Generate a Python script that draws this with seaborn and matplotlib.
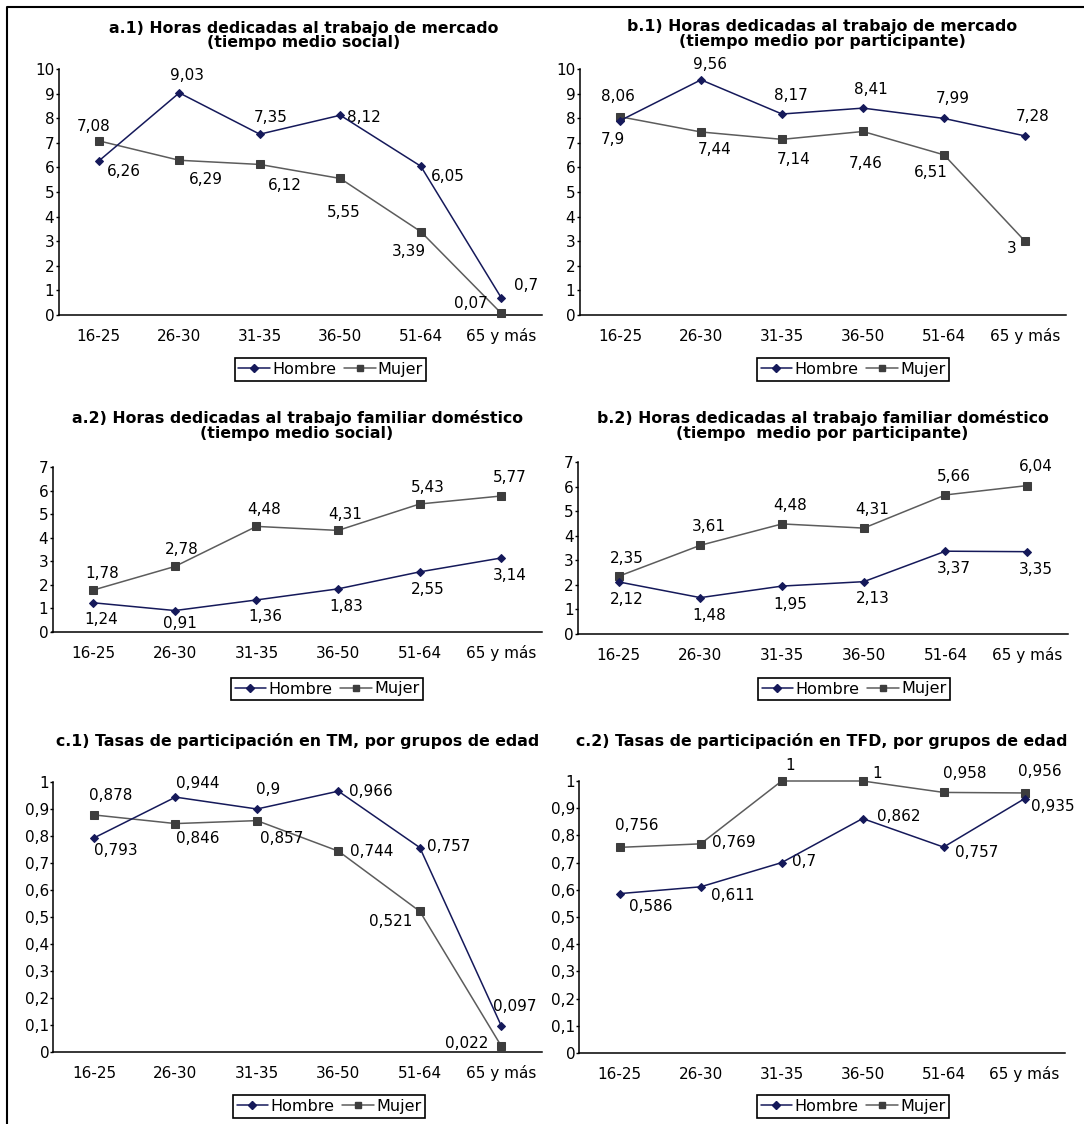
import matplotlib
matplotlib.use("Agg")
import matplotlib.pyplot as plt
import seaborn as sns
import pandas as pd
from matplotlib.lines import Line2D

# ---------------- data ----------------
categories = ["16-25", "26-30", "31-35", "36-50", "51-64", "65 y más"]
series_names = ["Hombre", "Mujer"]

a1_hombre = [6.26, 9.03, 7.35, 8.12, 6.05, 0.7]
a1_mujer = [7.08, 6.29, 6.12, 5.55, 3.39, 0.07]
b1_hombre = [7.9, 9.56, 8.17, 8.41, 7.99, 7.28]
b1_mujer = [8.06, 7.44, 7.14, 7.46, 6.51, 3]
a2_hombre = [1.24, 0.91, 1.36, 1.83, 2.55, 3.14]
a2_mujer = [1.78, 2.78, 4.48, 4.31, 5.43, 5.77]
b2_hombre = [2.12, 1.48, 1.95, 2.13, 3.37, 3.35]
b2_mujer = [2.35, 3.61, 4.48, 4.31, 5.66, 6.04]
c1_hombre = [0.793, 0.944, 0.9, 0.966, 0.757, 0.097]
c1_mujer = [0.878, 0.846, 0.857, 0.744, 0.521, 0.022]
c2_hombre = [0.586, 0.611, 0.7, 0.862, 0.757, 0.935]
c2_mujer = [0.756, 0.769, 1, 1, 0.958, 0.956]

title_a1 = "a.1) Horas dedicadas al trabajo de mercado\n(tiempo medio social)"
title_b1 = "b.1) Horas dedicadas al trabajo de mercado\n(tiempo medio por participante)"
title_a2 = "a.2) Horas dedicadas al trabajo familiar doméstico\n(tiempo medio social)"
title_b2 = "b.2) Horas dedicadas al trabajo familiar doméstico\n(tiempo  medio por participante)"
title_c1 = "c.1) Tasas de participación en TM, por grupos de edad"
title_c2 = "c.2) Tasas de participación en TFD, por grupos de edad"

hours_ticks_10 = [0, 1, 2, 3, 4, 5, 6, 7, 8, 9, 10]
hours_ticks_7 = [0, 1, 2, 3, 4, 5, 6, 7]
rate_ticks = [0, 0.1, 0.2, 0.3, 0.4, 0.5, 0.6, 0.7, 0.8, 0.9, 1]

# ---------------- style / layout ----------------
W, H = 1084, 1124
NAVY = "#15195a"
GREY_LINE = "#5c5c5c"
GREY_MARK = "#3d3d3d"
FS = 11

sns.set_style("white")
plt.rcParams["font.family"] = ["DejaVu Sans"]
plt.rcParams["text.color"] = "black"
plt.rcParams["xtick.color"] = "black"
plt.rcParams["ytick.color"] = "black"
plt.rcParams["axes.labelcolor"] = "black"

fig = plt.figure(figsize=(W / 100, H / 100), dpi=100)

panels = [
    dict(h=a1_hombre, m=a1_mujer, title=title_a1, ticks=hours_ticks_10,
         box=(58.5, 541.5, 69, 315), tpos=(304, 35.5), lpos=(330.5, 369.5),
         off_h=[(25, 10), (7.6, -17), (11, -17), (23.5, 2), (26.6, 10), (25, -12)],
         off_m=[(-5, -14), (27, 19), (25, 21), (3, 34), (-11.4, 20), (-30, -10)]),
    dict(h=b1_hombre, m=b1_mujer, title=title_b1, ticks=hours_ticks_10,
         box=(579.5, 1065.5, 69, 315), tpos=(822, 34), lpos=(853, 369.5),
         off_h=[(-7, 19), (8.6, -15), (8.6, -19), (8.3, -19), (9, -20), (8, -19)],
         off_m=[(-2, -20), (14, 18), (12, 20), (2.4, 32), (-13, 18), (-13, 7)]),
    dict(h=a2_hombre, m=a2_mujer, title=title_a2, ticks=hours_ticks_7,
         box=(52.5, 542, 467, 632), tpos=(297, 425.5), lpos=(327, 689),
         off_h=[(7.6, 17), (5, 13), (9, 17), (8, 18), (8.6, 18), (8.3, 18)],
         off_m=[(8.6, -17), (7, -17), (8, -17), (7, -16), (8.6, -17), (8.3, -18)]),
    dict(h=b2_hombre, m=b2_mujer, title=title_b2, ticks=hours_ticks_7,
         box=(577.8, 1068, 462, 634), tpos=(822.5, 425.5), lpos=(854, 689),
         off_h=[(8, 18), (9.3, 18), (8, 18), (9.3, 17), (8.6, 17), (9, 18)],
         off_m=[(8, -18), (8.6, -19), (8, -18), (8.6, -19), (8.6, -18), (9, -19)]),
    dict(h=c1_hombre, m=c1_mujer, title=title_c1, ticks=rate_ticks,
         box=(53.3, 542, 782, 1052), tpos=(298, 741), lpos=(329, 1106.5),
         off_h=[(21.8, 13), (22, -14), (11, -20), (33, 0), (28.7, -1), (13, -19)],
         off_m=[(17, -19), (22, 15), (25, 18), (33, 0), (-29, 10), (-35, -3)]),
    dict(h=c2_hombre, m=c2_mujer, title=title_c2, ticks=rate_ticks,
         box=(579.3, 1065, 781, 1053), tpos=(822, 741), lpos=(853, 1106.5),
         off_h=[(31, 13), (32, 9), (22.5, -1), (36, -2), (33, 5), (28, 8)],
         off_m=[(17, -22), (33, -1), (8, -16), (14.5, -8), (21, -19), (15, -21)]),
]


def fmt(v):
    return f"{v:g}".replace(".", ",")


xpos = list(range(len(categories)))

for p in panels:
    x0, x1, ytop, ybot = p["box"]
    ax = fig.add_axes([x0 / W, 1 - ybot / H, (x1 - x0) / W, (ybot - ytop) / H])
    df = pd.DataFrame({
        "x": xpos * 2,
        "valor": list(p["h"]) + list(p["m"]),
        "sexo": [series_names[0]] * len(xpos) + [series_names[1]] * len(xpos),
    })
    dh = df[df["sexo"] == "Hombre"]
    dm = df[df["sexo"] == "Mujer"]
    sns.lineplot(data=dm, x="x", y="valor", ax=ax, color=GREY_LINE, linewidth=1.1,
                 marker="s", markersize=6, markerfacecolor=GREY_MARK,
                 markeredgecolor=GREY_MARK, clip_on=False, zorder=3)
    sns.lineplot(data=dh, x="x", y="valor", ax=ax, color=NAVY, linewidth=1.1,
                 marker="D", markersize=4.2, markerfacecolor=NAVY,
                 markeredgecolor=NAVY, clip_on=False, zorder=4)

    ymax = p["ticks"][-1]
    ax.set_xlim(-0.5, len(categories) - 0.5)
    ax.set_ylim(0, ymax)
    ax.set_xlabel("")
    ax.set_ylabel("")
    ax.set_xticks(xpos)
    ax.set_xticklabels(categories, fontsize=FS, va="baseline")
    ax.set_xticks([i - 0.5 for i in range(len(categories) + 1)], minor=True)
    ax.set_yticks(p["ticks"])
    ax.set_yticklabels([fmt(t) for t in p["ticks"]], fontsize=FS)
    ax.tick_params(axis="x", which="major", length=0, pad=18.5)
    ax.tick_params(axis="x", which="minor", length=3, width=1, direction="out", color="black")
    ax.tick_params(axis="y", which="major", length=2.5, width=1, direction="out",
                   color="black", pad=0.5, left=True)
    for s in ["top", "right"]:
        ax.spines[s].set_visible(False)
    for s in ["left", "bottom"]:
        ax.spines[s].set_color("black")
        ax.spines[s].set_linewidth(1.1)
    ax.set_facecolor("none")
    if ax.get_legend() is not None:
        ax.get_legend().remove()

    for i, v in enumerate(p["h"]):
        dx, dy = p["off_h"][i]
        ax.annotate(fmt(v), (i, v), xytext=(dx, -dy), textcoords="offset pixels",
                    ha="center", va="center", fontsize=FS, color="black",
                    annotation_clip=False)
    for i, v in enumerate(p["m"]):
        dx, dy = p["off_m"][i]
        ax.annotate(fmt(v), (i, v), xytext=(dx, -dy), textcoords="offset pixels",
                    ha="center", va="center", fontsize=FS, color="black",
                    annotation_clip=False)

    tx, ty = p["tpos"]
    fig.text(tx / W, 1 - ty / H, p["title"], ha="center", va="center",
             fontsize=11.3, fontweight="bold", linespacing=1.0, multialignment="center",
             color="black")

    handles = [
        Line2D([], [], color=NAVY, lw=1.1, marker="D", markersize=4.2,
               markerfacecolor=NAVY, markeredgecolor=NAVY),
        Line2D([], [], color=GREY_LINE, lw=1.1, marker="s", markersize=5,
               markerfacecolor=GREY_MARK, markeredgecolor=GREY_MARK),
    ]
    lx, ly = p["lpos"]
    leg = fig.legend(handles, series_names, loc="center",
                     bbox_to_anchor=(lx / W, 1 - ly / H), bbox_transform=fig.transFigure,
                     ncol=2, frameon=True, fancybox=False, edgecolor="black",
                     framealpha=1, fontsize=11.5, handlelength=2.0, handletextpad=0.12,
                     columnspacing=0.5, borderpad=0.22, borderaxespad=0)
    leg.get_frame().set_linewidth(1.2)

# outer frame (left and top edges visible)
fig.add_artist(Line2D([7 / W, 7 / W, 1], [0, 1 - 7 / H, 1 - 7 / H],
                      transform=fig.transFigure, color="black", lw=1.5))

fig.savefig("out.png", dpi=100)
